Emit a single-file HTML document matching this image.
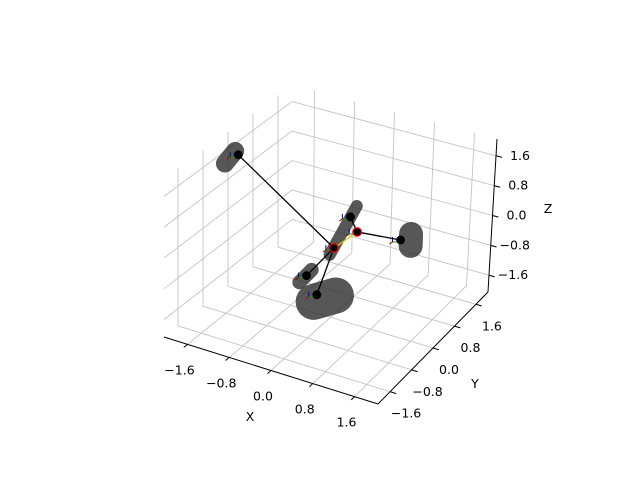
<!DOCTYPE html>
<html><head><meta charset="utf-8"><style>
html,body{margin:0;padding:0;background:#fff;}
svg{display:block;font-family:"DejaVu Sans","Liberation Sans",sans-serif;}
</style></head><body>
<svg id="chart" width="640" height="480" viewBox="0 0 640 480"></svg>
<script>
// ---- data (x, y, z in axis units) ----
const xTicks = [-1.6, -0.8, 0.0, 0.8, 1.6];
const yTicks = [-1.6, -0.8, 0.0, 0.8, 1.6];
const zTicks = [-1.6, -0.8, 0.0, 0.8, 1.6];
const tickLabels = ["\u22121.6", "\u22120.8", "0.0", "0.8", "1.6"];
const jointNames = ["hub", "head", "upper", "red-joint", "right", "lower-left", "bottom"];
const jointX = [0.04, -1.85, 0.35, 0.49, 1.34, -0.49, -0.28];
const jointY = [0, 0, 0, 0, 0, 0, 0];
const jointZ = [-0.22, 1.52, 0.71, 0.37, 0.48, -1.15, -1.57];
const jointRing = [true, false, false, true, false, false, false];
const linkFrom = [0, 0, 0, 2, 3];
const linkTo = [1, 5, 6, 3, 4];
const capX1 = [-2.11, -0.04, 1.54, -0.63, -0.34];
const capZ1 = [1.19, -0.43, 0.71, -1.38, -1.78];
const capX2 = [-1.91, 0.47, 1.54, -0.39, 0.10];
const capZ2 = [1.60, 1.04, 0.40, -0.96, -1.44];
const capY = [0, 0, 0, 0, 0];
const capW = [18, 12, 24, 14, 36];

const L = 2.05;
const C = {
 "000":[164,337],"100":[378,404],"010":[292,236],"110":[488,292],
 "001":[164,179],"101":[381,240],"011":[292,85],"111":[497,139]};
function proj(x,y,z){
  const u=(x+L)/(2*L), v=(y+L)/(2*L), w=(z+L)/(2*L);
  let sx=0, sy=0;
  for(const a of [0,1]) for(const b of [0,1]) for(const c of [0,1]){
    const wt=(a?u:1-u)*(b?v:1-v)*(c?w:1-w);
    const p=C[""+a+b+c]; sx+=wt*p[0]; sy+=wt*p[1];
  }
  return [sx,sy];
}
const svg=document.getElementById('chart');
const NS="http://www.w3.org/2000/svg";
function mk(tag,attrs,parent){const e=document.createElementNS(NS,tag);for(const k in attrs)e.setAttribute(k,attrs[k]);(parent||svg).appendChild(e);return e;}
function line3(a,b,attrs,parent){const p=proj(...a),q=proj(...b);return mk('line',Object.assign({x1:p[0],y1:p[1],x2:q[0],y2:q[1]},attrs),parent);}

const grid=mk('g',{});


const gs={stroke:'#c4c4c4','stroke-width':0.9};
yTicks.forEach(t=>{line3([-L,t,-L],[-L,t,L],gs,grid);line3([-L,t,-L],[L,t,-L],gs,grid);});
zTicks.forEach(t=>{line3([-L,-L,t],[-L,L,t],gs,grid);line3([-L,L,t],[L,L,t],gs,grid);});
xTicks.forEach(t=>{line3([t,L,-L],[t,L,L],gs,grid);line3([t,-L,-L],[t,L,-L],gs,grid);});

const ax={stroke:'#000','stroke-width':1};
const xAxis=line3([-L,-L,-L],[L,-L,-L],ax);


const yAxis=line3([L,-L,-L],[L,L,-L],ax);


const zAxis=line3([L,L,-L],[L,L,L],ax);



function txt(x,y,s,anchor,name){const t=mk('text',{x:x,y:y,'font-size':12.5,'text-anchor':anchor||'middle',fill:'#000'});t.textContent=s;


return t;}
xTicks.forEach((t,i)=>{const p=proj(t,-L,-L);line3([t,-L,-L],[t,-L-0.12,-L],ax);txt(p[0]-8,p[1]+30,tickLabels[i],'middle','x-tick-label');});
yTicks.forEach((t,i)=>{const p=proj(L,t,-L);line3([L,t,-L],[L+0.12,t,-L],ax);txt(p[0]+16,p[1]+26,tickLabels[i],'middle','y-tick-label');});
zTicks.forEach((t,i)=>{const p=proj(L,L,t);line3([L,L,t],[L+0.12,L,t],ax);txt(p[0]+24,p[1]+4,tickLabels[i],'middle','z-tick-label');});
txt(250,421,'X','middle','x-axis-title');
txt(475,388,'Y','middle','y-axis-title');
txt(548,213,'Z','middle','z-axis-title');

capX1.forEach((_,i)=>{
  const c=line3([capX1[i],capY[i],capZ1[i]],[capX2[i],capY[i],capZ2[i]],{stroke:'rgba(50,50,50,0.82)','stroke-width':capW[i],'stroke-linecap':'round'});
  
  
});
jointX.forEach((_,i)=>{
  const p=proj(jointX[i],jointY[i],jointZ[i]);
  mk('line',{x1:p[0]-8,y1:p[1]+2,x2:p[0]-3,y2:p[1]+2,stroke:'#0a0',"stroke-width":1});
  mk('line',{x1:p[0]-8,y1:p[1]+2,x2:p[0]-8,y2:p[1]-3,stroke:'#00a',"stroke-width":1});
  mk('line',{x1:p[0]-8,y1:p[1]+2,x2:p[0]-11,y2:p[1]+4,stroke:'#a00',"stroke-width":1});
});
{const y=line3([jointX[0],jointY[0],jointZ[0]],[jointX[3],jointY[3],jointZ[3]],{stroke:'#d8d000','stroke-width':1.2});

}
linkFrom.forEach((f,i)=>{
  const t=linkTo[i];
  const l=line3([jointX[f],jointY[f],jointZ[f]],[jointX[t],jointY[t],jointZ[t]],{stroke:'#000','stroke-width':1.3});
  
  
});
jointX.forEach((_,i)=>{
  const p=proj(jointX[i],jointY[i],jointZ[i]);
  const c=mk('circle',{cx:p[0],cy:p[1],r:4.2,fill:'#000',stroke:jointRing[i]?'#e00':'#000','stroke-width':jointRing[i]?1.2:0.5});
  
  
});
</script>
</body></html>
